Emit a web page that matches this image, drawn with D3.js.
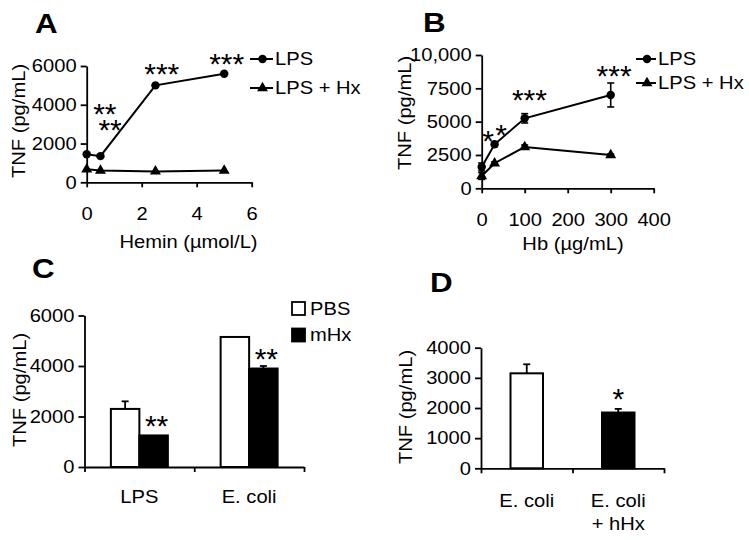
<!DOCTYPE html>
<html>
<head>
<meta charset="utf-8">
<script src="https://cdn.jsdelivr.net/npm/d3@7"></script>
<style>
  body { margin: 0; background: #fff; }
  svg text { font-family: "Liberation Sans", Arial, sans-serif; fill: #000; }
</style>
</head>
<body>
<div id="chart"></div>
<script>
// ---- panel A : hemin dose response
const hemin = [0, 0.5, 2.5, 5];
const tnfHeminLPS = [1450, 1350, 5000, 5600];
const tnfHeminLPSHx = [670, 610, 560, 610];
const heminTicks = [0, 2, 4, 6];
const tnfTicksA = [0, 2000, 4000, 6000];
const starsA = [
    { x: 0.66, y: 3900, t: "**" },
    { x: 0.85, y: 3040, t: "**" },
    { x: 2.73, y: 5960, t: "***" },
    { x: 5.09, y: 6480, t: "***" }
];

// ---- panel B : hemoglobin dose response
const hb = [0, 30, 100, 300];
const tnfHbLPS = [1600, 3300, 5250, 7000];
const errHbLPS = [300, 150, 350, 900];
const tnfHbLPSHx = [920, 1880, 3100, 2500];
const errHbLPSHx = [250, 100, 150, 80];
const hbTicks = [0, 100, 200, 300, 400];
const tnfTicksB = [0, 2500, 5000, 7500, 10000];
const tnfTickLabelsB = ["0", "2500", "5000", "7500", "10,000"];
const starsB = [
    { x: 15, y: 4050, t: "*" },
    { x: 45, y: 4560, t: "*" },
    { x: 111, y: 7150, t: "***" },
    { x: 308, y: 8950, t: "***" }
];

// ---- panel C : LPS / E. coli with PBS or mHx
const categoriesC = ["LPS", "E. coli"];
const seriesC = ["PBS", "mHx"];
const tnfPBS = [2300, 5150];
const errPBS = [300, 0];
const tnfMHx = [1250, 3900];
const errMHx = [0, 100];
const tnfTicksC = [0, 2000, 4000, 6000];
const starsC = [
    { cat: "LPS", s: "mHx", y: 1890, t: "**" },
    { cat: "E. coli", s: "mHx", y: 4570, t: "**" }
];

// ---- panel D : E. coli with hHx
const categoriesD = ["E. coli", "E. coli\n+ hHx"];
const tnfD = [3150, 1850];
const errD = [300, 120];
const tnfTicksD = [0, 1000, 2000, 3000, 4000];
const starsD = [{ i: 1, y: 2520, t: "*" }];

const S = 1.12; // the source type is a bit wider than Arial

const svg = d3.select("#chart").append("svg")
    .attr("width", 749)
    .attr("height", 540);

function styleAxis(g) {
    g.attr("font-family", null).attr("font-size", null);
    g.select(".domain").attr("stroke", "#000").attr("stroke-width", 1.8);
    g.selectAll(".tick line").attr("stroke", "#000").attr("stroke-width", 1.8);
    g.selectAll(".tick text").attr("font-size", 18).attr("fill", "#000");
}

function label(g, txt, x, y, opts = {}) {
    return g.append("text")
        .attr("x", x)
        .attr("y", y)
        .attr("text-anchor", opts.anchor || "start")
        .attr("font-size", opts.size || 18)
        .attr("font-weight", opts.bold ? "bold" : null)
        .text(txt);
}

function yLabel(g, txt, x, y) {
    g.append("text")
        .attr("transform", `translate(${x},${y}) rotate(-90)`)
        .attr("text-anchor", "middle")
        .attr("font-size", 18)
        .text(txt);
}

function drawStars(g, list, px, py) {
    g.selectAll(null)
        .data(list)
        .enter()
        .append("text")
        .attr("class", "star")
        .attr("x", px)
        .attr("y", d => py(d) + 17)
        .attr("text-anchor", "middle")
        .attr("font-size", 30)
        .text(d => d.t);
}

function drawSeries(g, xs, ys, errs, x, y, symbol) {
    const pts = xs.map((v, i) => ({ x: v, y: ys[i], e: errs ? errs[i] : 0 }));
    g.append("path")
        .datum(pts)
        .attr("fill", "none")
        .attr("stroke", "#000")
        .attr("stroke-width", 2)
        .attr("d", d3.line().x(d => x(d.x)).y(d => y(d.y)));
    const eb = g.selectAll(null).data(pts.filter(d => d.e > 0)).enter().append("g");
    eb.append("line")
        .attr("x1", d => x(d.x)).attr("x2", d => x(d.x))
        .attr("y1", d => y(d.y - d.e)).attr("y2", d => y(d.y + d.e))
        .attr("stroke", "#000").attr("stroke-width", 1.6);
    [-1, 1].forEach(k => {
        eb.append("line")
            .attr("x1", d => x(d.x) - 3.5).attr("x2", d => x(d.x) + 3.5)
            .attr("y1", d => y(d.y + k * d.e)).attr("y2", d => y(d.y + k * d.e))
            .attr("stroke", "#000").attr("stroke-width", 1.6);
    });
    g.selectAll(null)
        .data(pts)
        .enter()
        .append("path")
        .attr("transform", d => `translate(${x(d.x)},${y(d.y)})`)
        .attr("d", d3.symbol().type(symbol).size(symbol === d3.symbolCircle ? 56 : 52))
        .attr("fill", "#000");
}

function legendLine(g, x0, x1, y, symbol, txt) {
    g.append("line")
        .attr("x1", x0).attr("x2", x1).attr("y1", y).attr("y2", y)
        .attr("stroke", "#000").attr("stroke-width", 2);
    g.append("path")
        .attr("transform", `translate(${(x0 + x1) / 2 + 1},${y})`)
        .attr("d", d3.symbol().type(symbol).size(symbol === d3.symbolCircle ? 56 : 52))
        .attr("fill", "#000");
    label(g, txt, x1 + 2, y + 6.5);
}

// ================= Panel A
const xA = d3.scaleLinear().domain([0, 6]).range([86.7, 251.7]);
const yA = d3.scaleLinear().domain([0, 6000]).range([182.3, 66]);
const gA = svg.append("g");

gA.append("g")
    .attr("transform", `translate(0,${yA(0)})`)
    .call(d3.axisBottom(xA).tickValues(heminTicks).tickFormat(d3.format("d"))
        .tickSize(5).tickSizeOuter(0).tickPadding(20))
    .call(styleAxis);
gA.append("g")
    .attr("transform", `translate(${xA(0)},0)`)
    .call(d3.axisLeft(yA).tickValues(tnfTicksA).tickFormat(d3.format("d"))
        .tickSize(6).tickSizeOuter(0).tickPadding(4))
    .call(styleAxis);

drawSeries(gA, hemin, tnfHeminLPSHx, null, xA, yA, d3.symbolTriangle);
drawSeries(gA, hemin, tnfHeminLPS, null, xA, yA, d3.symbolCircle);
drawStars(gA, starsA, d => xA(d.x), d => yA(d.y));

label(gA, "A", 35, 33, { size: 28, bold: true });
yLabel(gA, "TNF (pg/mL)", 25, 121);
label(gA, "Hemin (\u00b5mol/L)", 188.5, 248, { anchor: "middle" });
legendLine(gA, 250, 273, 59, d3.symbolCircle, "LPS");
legendLine(gA, 250, 273, 88, d3.symbolTriangle, "LPS + Hx");

// ================= Panel B
const xB = d3.scaleLinear().domain([0, 400]).range([481.7, 653.7]);
const yB = d3.scaleLinear().domain([0, 10000]).range([188.3, 55]);
const gB = svg.append("g");

gB.append("g")
    .attr("transform", `translate(0,${yB(0)})`)
    .call(d3.axisBottom(xB).tickValues(hbTicks).tickFormat(d3.format("d"))
        .tickSize(5).tickSizeOuter(0).tickPadding(20))
    .call(styleAxis);
gB.append("g")
    .attr("transform", `translate(${xB(0)},0)`)
    .call(d3.axisLeft(yB).tickValues(tnfTicksB).tickFormat((d, i) => tnfTickLabelsB[i])
        .tickSize(6).tickSizeOuter(0).tickPadding(4))
    .call(styleAxis);

drawSeries(gB, hb, tnfHbLPSHx, errHbLPSHx, xB, yB, d3.symbolTriangle);
drawSeries(gB, hb, tnfHbLPS, errHbLPS, xB, yB, d3.symbolCircle);
drawStars(gB, starsB, d => xB(d.x), d => yB(d.y));

label(gB, "B", 423, 32, { size: 28, bold: true });
yLabel(gB, "TNF (pg/mL)", 411, 113);
label(gB, "Hb (\u00b5g/mL)", 573, 250, { anchor: "middle" });
legendLine(gB, 636, 656, 59, d3.symbolCircle, "LPS");
legendLine(gB, 636, 656, 83, d3.symbolTriangle, "LPS + Hx");

// ================= Panel C
const xC = d3.scaleBand().domain(categoriesC).range([84.5, 304]);
const barsW = 57;
const x1C = d3.scaleBand().domain(seriesC)
    .range([(xC.bandwidth() - barsW) / 2, (xC.bandwidth() + barsW) / 2]);
const yC = d3.scaleLinear().domain([0, 6000]).range([467, 315.5]);
const gC = svg.append("g");

const rowsC = categoriesC.map((c, i) => [
    { cat: c, s: "PBS", v: tnfPBS[i], e: errPBS[i] },
    { cat: c, s: "mHx", v: tnfMHx[i], e: errMHx[i] }
]).flat();

const ebC = gC.selectAll(null).data(rowsC.filter(d => d.e > 0)).enter().append("g");
ebC.append("line")
    .attr("x1", d => xC(d.cat) + x1C(d.s) + x1C.bandwidth() / 2)
    .attr("x2", d => xC(d.cat) + x1C(d.s) + x1C.bandwidth() / 2)
    .attr("y1", d => yC(d.v)).attr("y2", d => yC(d.v + d.e))
    .attr("stroke", "#000").attr("stroke-width", 1.8);
ebC.append("line")
    .attr("x1", d => xC(d.cat) + x1C(d.s) + x1C.bandwidth() / 2 - 3.5)
    .attr("x2", d => xC(d.cat) + x1C(d.s) + x1C.bandwidth() / 2 + 3.5)
    .attr("y1", d => yC(d.v + d.e)).attr("y2", d => yC(d.v + d.e))
    .attr("stroke", "#000").attr("stroke-width", 1.8);

gC.selectAll(".bar")
    .data(rowsC)
    .enter()
    .append("rect")
    .attr("class", "bar")
    .attr("x", d => xC(d.cat) + x1C(d.s))
    .attr("width", x1C.bandwidth())
    .attr("y", d => yC(d.v))
    .attr("height", d => yC(0) - yC(d.v))
    .attr("fill", d => d.s === "PBS" ? "#fff" : "#000")
    .attr("stroke", "#000")
    .attr("stroke-width", 2);

const bC = d3.scaleLinear().domain([0, categoriesC.length]).range(xC.range());
gC.append("g")
    .attr("transform", `translate(0,${yC(0)})`)
    .call(d3.axisBottom(bC).tickValues(d3.range(categoriesC.length + 1)).tickFormat("")
        .tickSize(5).tickSizeOuter(0))
    .call(styleAxis);
gC.append("g")
    .attr("transform", `translate(${xC.range()[0]},0)`)
    .call(d3.axisLeft(yC).tickValues(tnfTicksC).tickFormat(d3.format("d"))
        .tickSize(6).tickSizeOuter(0).tickPadding(4))
    .call(styleAxis);

categoriesC.forEach(c => label(gC, c, xC(c) + xC.bandwidth() / 2, 503, { anchor: "middle" }));
drawStars(gC, starsC, d => xC(d.cat) + x1C(d.s) + x1C.bandwidth() / 2 + 3, d => yC(d.y));

label(gC, "C", 32, 278, { size: 28, bold: true });
yLabel(gC, "TNF (pg/mL)", 26, 390);
seriesC.forEach((s, i) => {
    gC.append("rect")
        .attr("x", 292).attr("y", 302 + i * 26.5)
        .attr("width", 13).attr("height", 13)
        .attr("fill", i === 0 ? "#fff" : "#000")
        .attr("stroke", "#000").attr("stroke-width", 1.8);
    label(gC, s, 310, 315 + i * 26.5);
});

// ================= Panel D
const xD = d3.scaleBand().domain(categoriesD).range([481, 664]);
const barW = 32.5;
const yD = d3.scaleLinear().domain([0, 4000]).range([468.3, 347.7]);
const gD = svg.append("g");
const rowsD = categoriesD.map((c, i) => ({ cat: c, v: tnfD[i], e: errD[i], i }));
const cxD = d => xD(d.cat) + xD.bandwidth() / 2;

gD.selectAll(null).data(rowsD).enter().append("line")
    .attr("x1", cxD).attr("x2", cxD)
    .attr("y1", d => yD(d.v)).attr("y2", d => yD(d.v + d.e))
    .attr("stroke", "#000").attr("stroke-width", 1.8);
gD.selectAll(null).data(rowsD).enter().append("line")
    .attr("x1", d => cxD(d) - 3.5).attr("x2", d => cxD(d) + 3.5)
    .attr("y1", d => yD(d.v + d.e)).attr("y2", d => yD(d.v + d.e))
    .attr("stroke", "#000").attr("stroke-width", 1.8);

gD.selectAll(".bar")
    .data(rowsD)
    .enter()
    .append("rect")
    .attr("class", "bar")
    .attr("x", d => cxD(d) - barW / 2)
    .attr("width", barW)
    .attr("y", d => yD(d.v))
    .attr("height", d => yD(0) - yD(d.v))
    .attr("fill", d => d.i === 0 ? "#fff" : "#000")
    .attr("stroke", "#000")
    .attr("stroke-width", 2);

const bD = d3.scaleLinear().domain([0, categoriesD.length]).range(xD.range());
gD.append("g")
    .attr("transform", `translate(0,${yD(0)})`)
    .call(d3.axisBottom(bD).tickValues(d3.range(categoriesD.length + 1)).tickFormat("")
        .tickSize(5).tickSizeOuter(0))
    .call(styleAxis);
gD.append("g")
    .attr("transform", `translate(${xD.range()[0]},0)`)
    .call(d3.axisLeft(yD).tickValues(tnfTicksD).tickFormat(d3.format("d"))
        .tickSize(6).tickSizeOuter(0).tickPadding(4))
    .call(styleAxis);

rowsD.forEach(d => {
    d.cat.split("\n").forEach((ln, k) => label(gD, ln, cxD(d), 507 + k * 23, { anchor: "middle" }));
});
drawStars(gD, starsD, d => cxD(rowsD[d.i]), d => yD(d.y));

label(gD, "D", 430, 292, { size: 28, bold: true });
yLabel(gD, "TNF (pg/mL)", 412, 407);

// widen the lettering a little, keeping each anchor point fixed
svg.selectAll("text:not(.star)").each(function () {
    const t = d3.select(this);
    const x = +t.attr("x") || 0;
    const prev = t.attr("transform") || "";
    t.attr("transform", `${prev} translate(${x * (1 - S)},0) scale(${S},1)`);
});
</script>
</body>
</html>
